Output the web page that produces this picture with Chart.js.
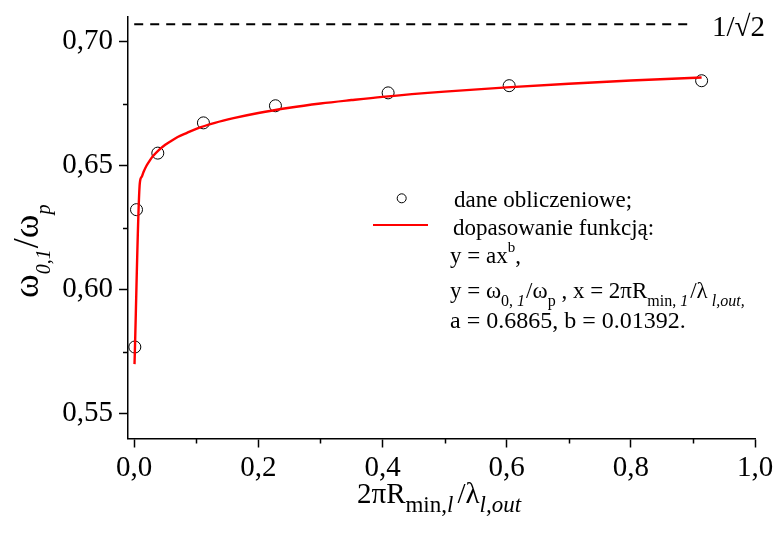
<!DOCTYPE html>
<html>
<head>
<meta charset="utf-8">
<script src="https://cdn.jsdelivr.net/npm/chart.js@4.4.1/dist/chart.umd.min.js"></script>
<style>
html,body{margin:0;padding:0;background:#fff;}
#wrap{width:778px;height:536px;position:relative;}
</style>
</head>
<body>
<div id="wrap"><canvas id="c" width="778" height="536"></canvas></div>
<script>
// ---- data ----
const dataX = [0.001, 0.0037, 0.038, 0.1115, 0.2275, 0.409, 0.604, 0.914];
const dataY = [0.5769, 0.6323, 0.6551, 0.6673, 0.6742, 0.6794, 0.6823, 0.6843];

const fitX = [0.0005, 0.009, 0.012, 0.015, 0.02, 0.025, 0.03, 0.04, 0.05, 0.06, 0.07, 0.085, 0.1, 0.13, 0.16, 0.2, 0.25, 0.3, 0.35, 0.4, 0.5, 0.6, 0.7, 0.8, 0.914];
const fitY = [0.570, 0.6429, 0.6455, 0.6475, 0.6501, 0.6521, 0.6538, 0.6564, 0.6585, 0.6601, 0.6616, 0.6633, 0.6649, 0.6673, 0.6692, 0.6713, 0.6734, 0.6751, 0.6765, 0.6778, 0.6799, 0.6816, 0.6831, 0.6844, 0.6856];

const refX = [0.0, 0.9];
const refY = [0.7071, 0.7071];

const xTicks = [0.0, 0.2, 0.4, 0.6, 0.8, 1.0];
const xMinor = [0.1, 0.3, 0.5, 0.7, 0.9];
const yTicks = [0.55, 0.60, 0.65, 0.70];
const yMinor = [0.575, 0.625, 0.675];

const legendLabels = ["dane obliczeniowe;", "dopasowanie funkcją:"];
const fitParams = "a = 0.6865, b = 0.01392.";
const refLabel = "1/√2";

const pts = (xs, ys) => xs.map((x, i) => ({x: x, y: ys[i]}));
const FONT = "'Liberation Serif', 'Times New Roman', serif";

function drawRuns(ctx, x, y, runs) {
  let cx = x;
  for (const r of runs) {
    ctx.font = (r.italic ? 'italic ' : '') + r.size + 'px ' + FONT;
    ctx.fillText(r.t, cx, y + (r.dy || 0));
    cx += ctx.measureText(r.t).width + (r.gap || 0);
  }
  return cx;
}

const overlay = {
  id: 'overlay',
  afterDraw(chart) {
    const ctx = chart.ctx;
    const xs = chart.scales.x, ys = chart.scales.y;
    const a = chart.chartArea;
    ctx.save();
    ctx.strokeStyle = '#000';
    ctx.lineWidth = 1.5;
    // minor ticks
    ctx.beginPath();
    for (const v of xMinor) {
      const px = Math.round(xs.getPixelForValue(v)) + 0.5;
      ctx.moveTo(px, a.bottom); ctx.lineTo(px, a.bottom + 5);
    }
    for (const v of yMinor) {
      const py = Math.round(ys.getPixelForValue(v)) + 0.5;
      ctx.moveTo(a.left, py); ctx.lineTo(a.left - 5, py);
    }
    ctx.stroke();

    ctx.fillStyle = '#000';
    ctx.textBaseline = 'alphabetic';
    ctx.textAlign = 'left';

    // reference label
    drawRuns(ctx, 712, 36, [{t: refLabel, size: 29}]);

    // x-axis title
    drawRuns(ctx, 357, 503, [
      {t: '2πR', size: 29},
      {t: 'min,', size: 23, dy: 9},
      {t: 'l', size: 23, dy: 9, italic: true, gap: 4},
      {t: '/λ', size: 29},
      {t: 'l,out', size: 23, dy: 9, italic: true}
    ]);

    // y-axis title (rotated)
    ctx.save();
    ctx.translate(38, 298);
    ctx.rotate(-Math.PI / 2);
    drawRuns(ctx, 0, 0, [
      {t: 'ω', size: 36},
      {t: '0,1', size: 20, dy: 12, italic: true, gap: 1},
      {t: '/ω', size: 36},
      {t: 'p', size: 20, dy: 12, italic: true}
    ]);
    ctx.restore();

    // legend
    ctx.lineWidth = 1;
    ctx.beginPath();
    ctx.arc(401.7, 198.3, 4.5, 0, Math.PI * 2);
    ctx.stroke();
    ctx.strokeStyle = '#ff0000';
    ctx.lineWidth = 2;
    ctx.beginPath();
    ctx.moveTo(373, 225); ctx.lineTo(428, 225);
    ctx.stroke();

    const LS = 23;
    drawRuns(ctx, 454, 207, [{t: legendLabels[0], size: LS}]);
    drawRuns(ctx, 453, 235, [{t: legendLabels[1], size: LS}]);
    drawRuns(ctx, 450, 263, [
      {t: 'y = ax', size: LS},
      {t: 'b', size: 15, dy: -11},
      {t: ',', size: LS}
    ]);
    drawRuns(ctx, 450, 298, [
      {t: 'y = ω', size: LS},
      {t: '0, ', size: 16, dy: 8},
      {t: '1', size: 16, dy: 8, italic: true, gap: 1},
      {t: '/ω', size: LS},
      {t: 'p', size: 16, dy: 8},
      {t: ' , x = 2πR', size: LS},
      {t: 'min, ', size: 16, dy: 8},
      {t: '1', size: 16, dy: 8, italic: true, gap: 2},
      {t: '/λ', size: LS},
      {t: ' l,out,', size: 16, dy: 8, italic: true}
    ]);
    drawRuns(ctx, 450, 328, [{t: fitParams, size: 24}]);
    ctx.restore();
  }
};

new Chart(document.getElementById('c'), {
  type: 'scatter',
  data: {
    datasets: [
      {
        label: 'ref',
        data: pts(refX, refY),
        showLine: true,
        borderColor: '#000',
        borderWidth: 2,
        borderDash: [9, 7],
        pointRadius: 0,
        fill: false
      },
      {
        label: 'fit',
        data: pts(fitX, fitY),
        showLine: true,
        borderColor: '#ff0000',
        borderWidth: 2.4,
        pointRadius: 0,
        cubicInterpolationMode: 'monotone',
        fill: false
      },
      {
        label: 'dane',
        data: pts(dataX, dataY),
        showLine: false,
        pointStyle: 'circle',
        pointRadius: 6,
        pointBorderWidth: 1,
        pointBorderColor: '#000',
        pointBackgroundColor: 'rgba(0,0,0,0)'
      }
    ]
  },
  options: {
    responsive: false,
    animation: false,
    devicePixelRatio: 1,
    layout: {padding: {left: 0, top: 17, right: 23, bottom: 0}},
    plugins: {legend: {display: false}, tooltip: {enabled: false}},
    scales: {
      x: {
        type: 'linear',
        min: -0.01, max: 1.0,
        afterBuildTicks: s => { s.ticks = xTicks.map(v => ({value: v})); },
        afterFit: s => { s.height = 97.5; s.paddingLeft = 0; s.paddingRight = 0; },
        border: {display: true, color: '#000', width: 1.5},
        grid: {display: true, drawOnChartArea: false, drawTicks: true, tickLength: 9, tickWidth: 1.5, tickColor: '#000'},
        ticks: {
          color: '#000', padding: 3, maxRotation: 0, autoSkip: false,
          font: {family: FONT, size: 29},
          callback: v => v.toFixed(1).replace('.', ',')
        }
      },
      y: {
        type: 'linear',
        min: 0.54, max: 0.71,
        afterBuildTicks: s => { s.ticks = yTicks.map(v => ({value: v})); },
        afterFit: s => { s.width = 128; s.paddingTop = 0; s.paddingBottom = 0; },
        border: {display: true, color: '#000', width: 1.5},
        grid: {display: true, drawOnChartArea: false, drawTicks: true, tickLength: 9, tickWidth: 1.5, tickColor: '#000'},
        ticks: {
          color: '#000', padding: 6, autoSkip: false,
          font: {family: FONT, size: 29},
          callback: v => v.toFixed(2).replace('.', ',')
        }
      }
    }
  },
  plugins: [overlay]
});
</script>
</body>
</html>
